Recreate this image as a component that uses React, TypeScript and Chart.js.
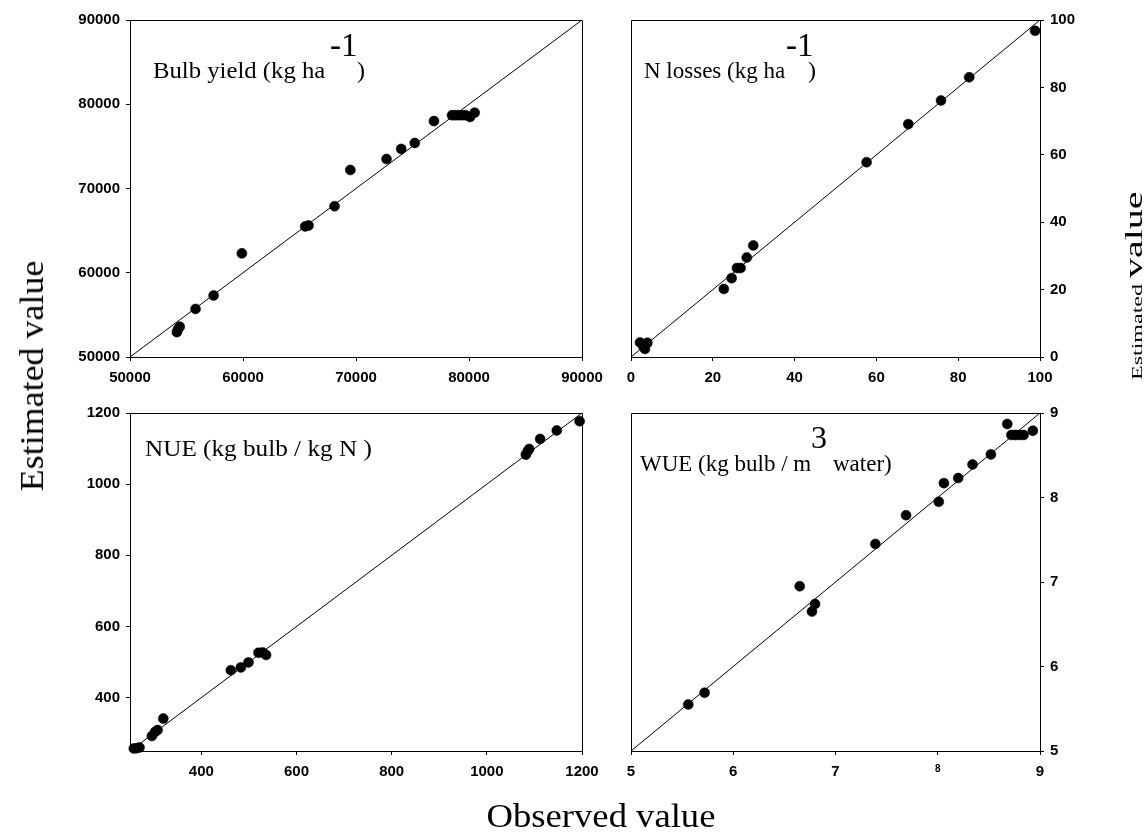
import React, { useEffect, useRef } from "react";
import { Chart, registerables } from "chart.js";

Chart.register(...registerables);

const PAGE_W = 1146;
const PAGE_H = 840;

// ---------- data ----------
const bulbObserved = [54150, 54400, 54250, 55800, 57400, 59900, 65500, 65800, 68100, 69500, 72700, 74000, 75200, 76900, 78500, 78800, 79100, 79400, 79700, 80100, 80500];
const bulbEstimated = [52950, 53600, 53300, 55700, 57300, 62300, 65500, 65600, 67900, 72200, 73500, 74700, 75400, 78000, 78700, 78700, 78700, 78700, 78700, 78500, 79000];
const bulbRange = [50000, 90000];
const bulbTicks = [50000, 60000, 70000, 80000, 90000];

const nObserved = [2.2, 3.0, 4.0, 3.4, 22.7, 24.6, 25.9, 26.8, 28.3, 29.9, 57.6, 67.8, 75.8, 82.7, 98.8];
const nEstimated = [4.3, 3.2, 4.2, 2.4, 20.2, 23.4, 26.4, 26.4, 29.5, 33.1, 57.8, 69.1, 76.1, 83.0, 96.8];
const nRange = [0, 100];
const nTicks = [0, 20, 40, 60, 80, 100];

const nueObserved = [258, 264, 270, 296, 303, 308, 320, 462, 483, 499, 520, 529, 536, 1082, 1086, 1089, 1112, 1147, 1195];
const nueEstimated = [257, 258, 260, 292, 304, 309, 341, 477, 485, 499, 526, 527, 520, 1083, 1093, 1099, 1127, 1151, 1177];
const nueRange = [250, 1200];
const nueTicks = [400, 600, 800, 1000, 1200];

const wueObserved = [5.56, 5.72, 6.65, 6.77, 6.8, 7.39, 7.69, 8.01, 8.06, 8.2, 8.34, 8.52, 8.68, 8.72, 8.76, 8.8, 8.84, 8.93];
const wueEstimated = [5.55, 5.69, 6.95, 6.65, 6.74, 7.45, 7.79, 7.95, 8.17, 8.23, 8.39, 8.51, 8.87, 8.74, 8.74, 8.74, 8.74, 8.79];
const wueRange = [5, 9];
const wueTicks = [5, 6, 7, 8, 9];

// ---------- layout ----------
const Y_AXIS_W = 60;
const X_AXIS_H = 40;
const SANS = "'Liberation Sans', Arial, Helvetica, sans-serif";
const SERIF = "'Liberation Serif', 'Times New Roman', Times, serif";

type Area = { l: number; r: number; t: number; b: number };
type PanelSpec = {
  obs: number[];
  est: number[];
  range: number[];
  ticks: number[];
  yPos: "left" | "right";
  area: Area;
  smallTick?: number;
};

const panels: PanelSpec[] = [
  { obs: bulbObserved, est: bulbEstimated, range: bulbRange, ticks: bulbTicks, yPos: "left", area: { l: 130, r: 582, t: 20, b: 357 } },
  { obs: nObserved, est: nEstimated, range: nRange, ticks: nTicks, yPos: "right", area: { l: 631, r: 1040, t: 20, b: 357 } },
  { obs: nueObserved, est: nueEstimated, range: nueRange, ticks: nueTicks, yPos: "left", area: { l: 130, r: 582, t: 413, b: 751 } },
  { obs: wueObserved, est: wueEstimated, range: wueRange, ticks: wueTicks, yPos: "right", area: { l: 631, r: 1040, t: 413, b: 751 }, smallTick: 8 },
];

const align = (v: number) => Math.round(v - 0.5) + 0.5;

const boxPlugin = {
  id: "boxFrame",
  afterDraw(chart: any) {
    const { ctx, chartArea: a } = chart;
    ctx.save();
    ctx.strokeStyle = "#000";
    ctx.lineWidth = 1;
    ctx.beginPath();
    const l = align(a.left);
    const r = align(a.right);
    const t = align(a.top);
    const b = align(a.bottom);
    ctx.moveTo(l, t);
    ctx.lineTo(r, t);
    ctx.lineTo(r, b);
    ctx.lineTo(l, b);
    ctx.closePath();
    ctx.stroke();
    ctx.restore();
  },
};

function makeConfig(p: PanelSpec): any {
  const points = p.obs.map((x, i) => ({ x, y: p.est[i] }));
  const line = [
    { x: p.range[0], y: p.range[0] },
    { x: p.range[1], y: p.range[1] },
  ];
  const padLeft = p.yPos === "left" ? p.area.l - Y_AXIS_W : p.area.l;
  const padRight = p.yPos === "right" ? PAGE_W - p.area.r - Y_AXIS_W : PAGE_W - p.area.r;
  const setTicks = (scale: any) => {
    scale.ticks = p.ticks.map((v) => ({ value: v }));
  };
  const grid = {
    display: true,
    drawOnChartArea: false,
    drawTicks: true,
    tickLength: 4,
    color: "#000",
    lineWidth: 1,
  };
  const border = { display: true, color: "#000", width: 1 };
  return {
    type: "scatter",
    data: {
      datasets: [
        {
          data: points,
          pointRadius: 5,
          pointHoverRadius: 5,
          backgroundColor: "#000",
          borderColor: "#000",
          borderWidth: 0.5,
          clip: false,
        },
        {
          data: line,
          showLine: true,
          pointRadius: 0,
          borderColor: "#000",
          borderWidth: 1,
          fill: false,
        },
      ],
    },
    options: {
      animation: false,
      responsive: true,
      maintainAspectRatio: false,
      events: [],
      layout: {
        padding: {
          left: padLeft,
          right: padRight,
          top: p.area.t,
          bottom: PAGE_H - p.area.b - X_AXIS_H,
        },
      },
      plugins: {
        legend: { display: false },
        tooltip: { enabled: false },
        title: { display: false },
      },
      scales: {
        x: {
          type: "linear",
          position: "bottom",
          min: p.range[0],
          max: p.range[1],
          afterBuildTicks: setTicks,
          afterFit: (s: any) => {
            s.height = X_AXIS_H;
          },
          grid,
          border,
          ticks: {
            color: "#000",
            padding: 8,
            maxRotation: 0,
            autoSkip: false,
            font: (ctx: any) => ({
              family: SANS,
              weight: "bold",
              size: p.smallTick !== undefined && ctx.tick && ctx.tick.value === p.smallTick ? 10 : 15,
            }),
            callback: (v: any) => String(v),
          },
        },
        y: {
          type: "linear",
          position: p.yPos,
          min: p.range[0],
          max: p.range[1],
          afterBuildTicks: setTicks,
          afterFit: (s: any) => {
            s.width = Y_AXIS_W;
          },
          grid,
          border,
          ticks: {
            color: "#000",
            padding: 6,
            autoSkip: false,
            font: { family: SANS, weight: "bold", size: 15 },
            callback: (v: any) => String(v),
          },
        },
      },
    },
    plugins: [boxPlugin],
  };
}

function Panel({ spec }: { spec: PanelSpec }) {
  const ref = useRef<HTMLCanvasElement>(null);
  useEffect(() => {
    if (!ref.current) return;
    const chart = new Chart(ref.current, makeConfig(spec));
    return () => chart.destroy();
  }, [spec]);
  return (
    <div style={{ position: "absolute", left: 0, top: 0, width: PAGE_W, height: PAGE_H }}>
      <canvas ref={ref} />
    </div>
  );
}

// ---------- text ----------
const BASE = 0.8375; // baseline offset (em) for Liberation Serif with line-height 1

type Frag = { text: string; left: number; baseline: number; size: number; k?: number };
const titleFrags: Frag[] = [
  { text: "Bulb yield (kg ha", left: 153, baseline: 78, size: 24, k: 1.03 },
  { text: "-1", left: 330, baseline: 57, size: 33 },
  { text: ")", left: 357, baseline: 78, size: 24 },
  { text: "N losses (kg ha", left: 644, baseline: 78, size: 23 },
  { text: "-1", left: 786, baseline: 57, size: 33 },
  { text: ")", left: 808, baseline: 78, size: 24 },
  { text: "NUE (kg bulb / kg N )", left: 145, baseline: 456, size: 24, k: 1.05 },
  { text: "WUE (kg bulb / m", left: 640, baseline: 471, size: 23 },
  { text: "3", left: 811, baseline: 448, size: 32 },
  { text: "water)", left: 833, baseline: 471, size: 23 },
];

function Frag({ f }: { f: Frag }) {
  return (
    <div
      style={{
        position: "absolute",
        left: f.left,
        top: f.baseline - BASE * f.size,
        fontFamily: SERIF,
        fontSize: f.size,
        lineHeight: `${f.size}px`,
        whiteSpace: "nowrap",
        color: "#000",
        transformOrigin: "left top",
        transform: `scaleX(${f.k ?? 1})`,
      }}
    >
      {f.text}
    </div>
  );
}

export default function App() {
  return (
    <div
      style={{
        position: "absolute",
        left: 0,
        top: 0,
        width: PAGE_W,
        height: PAGE_H,
        background: "#fff",
        overflow: "hidden",
      }}
    >
      {panels.map((p, i) => (
        <Panel key={i} spec={p} />
      ))}
      {titleFrags.map((f, i) => (
        <Frag key={i} f={f} />
      ))}
      {/* left y title */}
      <div
        style={{
          position: "absolute",
          left: 44 - BASE * 33,
          top: 376,
          fontFamily: SERIF,
          fontSize: 33,
          lineHeight: "33px",
          whiteSpace: "nowrap",
          transformOrigin: "left top",
          transform: "rotate(-90deg) scaleX(1.09) translateX(-50%)",
        }}
      >
        Estimated value
      </div>
      {/* right y title */}
      <div
        style={{
          position: "absolute",
          left: 1142 - BASE * 25,
          top: 380,
          fontFamily: SERIF,
          fontSize: 25,
          lineHeight: "25px",
          whiteSpace: "nowrap",
          transformOrigin: "left top",
          transform: "rotate(-90deg) scaleX(1.6)",
        }}
      >
        <span style={{ fontSize: 15, lineHeight: "15px" }}>Estimated </span>
        <span>value</span>
      </div>
      {/* x title */}
      <div
        style={{
          position: "absolute",
          left: 601,
          top: 828 - BASE * 33,
          fontFamily: SERIF,
          fontSize: 33,
          lineHeight: "33px",
          whiteSpace: "nowrap",
          transformOrigin: "left top",
          transform: "scaleX(1.11) translateX(-50%)",
        }}
      >
        Observed value
      </div>
    </div>
  );
}
